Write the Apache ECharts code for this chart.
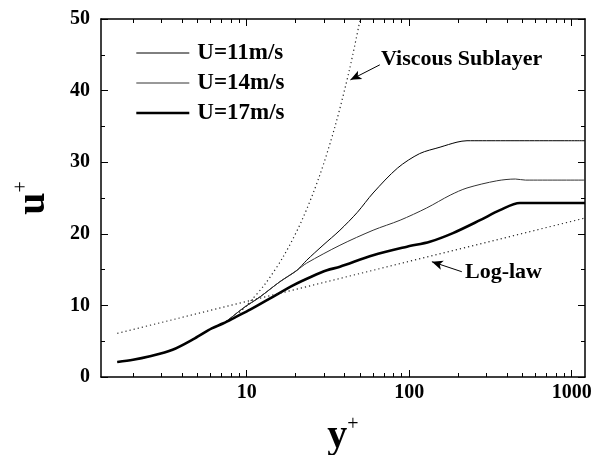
<!DOCTYPE html>
<html>
<head>
<meta charset="utf-8">
<script src="https://cdn.jsdelivr.net/npm/echarts@6/dist/echarts.min.js"></script>
<style>
  html, body { margin: 0; padding: 0; background: #fff; }
  #chart { width: 593px; height: 455px; }
</style>
</head>
<body>
<div id="chart"></div>
<script>
'use strict';

// 读图得到的数据 (y+, u+)
const u11 = [[1.6, 2.1], [2.0, 2.4], [2.5, 2.85], [3.5, 3.8], [4.8, 5.4], [6.1, 6.8], [7.2, 7.5],
    [9.5, 9.6], [12.1, 11.2], [16, 13.3], [20.4, 14.9], [23.4, 16.3], [29.5, 18.4], [37.5, 20.5],
    [48, 23.0], [60, 25.7], [85, 29.2], [116, 31.2], [155, 32.1], [197, 32.8], [227, 33.0], [1208, 33.0]];
const u14 = [[1.6, 2.1], [2.0, 2.4], [2.5, 2.85], [3.5, 3.8], [4.8, 5.4], [6.1, 6.8], [7.2, 7.5],
    [9.5, 9.6], [12.1, 11.2], [16, 13.3], [20.4, 14.9], [23.4, 15.9], [37.5, 18.4], [60, 20.5],
    [88, 21.9], [128, 23.6], [179, 25.4], [227, 26.4], [346, 27.4], [450, 27.65], [520, 27.5], [1208, 27.5]];
const u17 = [[1.6, 2.1], [2.0, 2.4], [2.5, 2.85], [3.5, 3.8], [4.8, 5.4], [6.1, 6.8], [7.2, 7.5],
    [8.6, 8.4], [10.5, 9.4], [14.5, 11.2], [19.3, 12.8], [25, 14.0], [31.2, 14.9], [37.5, 15.4],
    [60, 17.0], [97, 18.2], [134, 18.9], [186, 20.1], [273, 21.9], [362, 23.3], [480, 24.3], [1208, 24.3]];
const viscous = [[9, 9], [10, 10], [13, 13], [17, 17], [22, 22], [28, 28], [35, 35], [43, 43], [50, 50]];
const logLaw = [[1.6, 6.1], [1208, 22.2]];

const seriesNames = ['U=11m/s', 'U=14m/s', 'U=17m/s'];
const lineColors = ['#000', '#333', '#000'];
const lineWidths = [1.0, 1.0, 2.6];
const majorTicks = [10, 100, 1000];
const minorTicks = [2, 3, 4, 5, 6, 7, 8, 9, 20, 30, 40, 50, 60, 70, 80, 90,
    200, 300, 400, 500, 600, 700, 800, 900];

const FONT = 'Liberation Serif';
const xMin = 1.27, xMax = 1208;

function xAxisOf(pos, ticks, len, withLine, withLabel) {
    return {
        type: 'log',
        logBase: 10,
        min: xMin,
        max: xMax,
        position: pos,
        axisLine: {show: withLine, lineStyle: {color: '#000', width: 1.5}},
        axisTick: {show: true, inside: true, length: len, customValues: ticks,
            lineStyle: {color: '#000', width: 1}},
        minorTick: {show: false},
        axisLabel: withLabel ? {
            customValues: majorTicks,
            formatter: function (v) { return String(Math.round(v)); },
            color: '#000', fontFamily: FONT, fontWeight: 'bold', fontSize: 20, margin: 6
        } : {show: false},
        splitLine: {show: false}
    };
}

function yAxisOf(pos, withLabel) {
    return {
        type: 'value',
        min: 0,
        max: 50,
        interval: 10,
        position: pos,
        axisLine: {show: true, lineStyle: {color: '#000', width: 1.5}},
        axisTick: {show: true, inside: true, length: 7, lineStyle: {color: '#000'}},
        minorTick: {show: true, splitNumber: 2, length: 4, lineStyle: {color: '#000'}},
        axisLabel: withLabel ? {
            color: '#000', fontFamily: FONT, fontWeight: 'bold', fontSize: 20, margin: 11
        } : {show: false},
        splitLine: {show: false},
        minorSplitLine: {show: false}
    };
}

let myChart = echarts.init(document.getElementById('chart'));

let xMain = xAxisOf('bottom', majorTicks, 7, true, true);
xMain.name = '{b|y}{s|+}';
xMain.nameLocation = 'middle';
xMain.nameGap = 38;
xMain.nameTextStyle = {
    rich: {
        b: {fontFamily: FONT, fontWeight: 'bold', fontSize: 40, color: '#000', lineHeight: 44},
        s: {fontFamily: FONT, fontSize: 20, color: '#000', verticalAlign: 'top', lineHeight: 44}
    }
};

let yMain = yAxisOf('left', true);
yMain.name = '{b|u}{s|+}';
yMain.nameLocation = 'middle';
yMain.nameRotate = 90;
yMain.nameGap = 45;
yMain.nameTextStyle = xMain.nameTextStyle;

function lineSeries(name, data, color, width, extra) {
    return Object.assign({
        name: name,
        type: 'line',
        data: data,
        xAxisIndex: 0,
        yAxisIndex: 0,
        symbol: 'none',
        smooth: 0.3,
        lineStyle: {color: color, width: width},
        itemStyle: {color: color}
    }, extra || {});
}

function arrow(from, to) {
    return {
        silent: true,
        symbol: ['none', 'arrow'],
        symbolSize: [7, 11],
        label: {show: false},
        lineStyle: {type: 'solid', color: '#000', width: 1},
        data: [[{coord: from}, {coord: to}]]
    };
}

myChart.setOption({
    animation: false,
    grid: {left: 101, right: 8, top: 19, bottom: 78, outerBoundsMode: 'none'},
    legend: {
        data: seriesNames.map(function (n, i) {
            return {name: n, lineStyle: {color: lineColors[i], width: lineWidths[i]}};
        }),
        orient: 'vertical',
        left: 135,
        top: 41.5,
        itemWidth: 53,
        itemHeight: 14,
        itemGap: 7,
        padding: 0,
        itemStyle: {opacity: 0},
        textStyle: {fontFamily: FONT, fontWeight: 'bold', fontSize: 23, color: '#000',
            padding: [0, 0, 0, 3]}
    },
    xAxis: [
        xMain,
        xAxisOf('bottom', minorTicks, 4, false, false),
        xAxisOf('top', majorTicks, 7, true, false),
        xAxisOf('top', minorTicks, 4, false, false)
    ],
    yAxis: [yMain, yAxisOf('right', false)],
    graphic: [
        {type: 'text', left: 381, top: 48, style: {text: 'Viscous Sublayer', fill: '#000',
            font: 'bold 22px "Liberation Serif"'}},
        {type: 'text', left: 465, top: 261, style: {text: 'Log-law', fill: '#000',
            font: 'bold 22px "Liberation Serif"'}}
    ],
    series: [
        lineSeries(seriesNames[0], u11, lineColors[0], lineWidths[0]),
        lineSeries(seriesNames[1], u14, lineColors[1], lineWidths[1]),
        lineSeries(seriesNames[2], u17, lineColors[2], lineWidths[2]),
        lineSeries('viscous', viscous, '#222', 1.2, {
            lineStyle: {color: '#222', width: 1.2, type: [1.2, 3]},
            markLine: arrow([66, 43.6], [43.5, 41.5])
        }),
        lineSeries('loglaw', logLaw, '#222', 1.2, {
            smooth: false,
            lineStyle: {color: '#222', width: 1.2, type: [1.2, 3]},
            markLine: arrow([211, 14.7], [138, 16.1])
        })
    ]
});
</script>
</body>
</html>
